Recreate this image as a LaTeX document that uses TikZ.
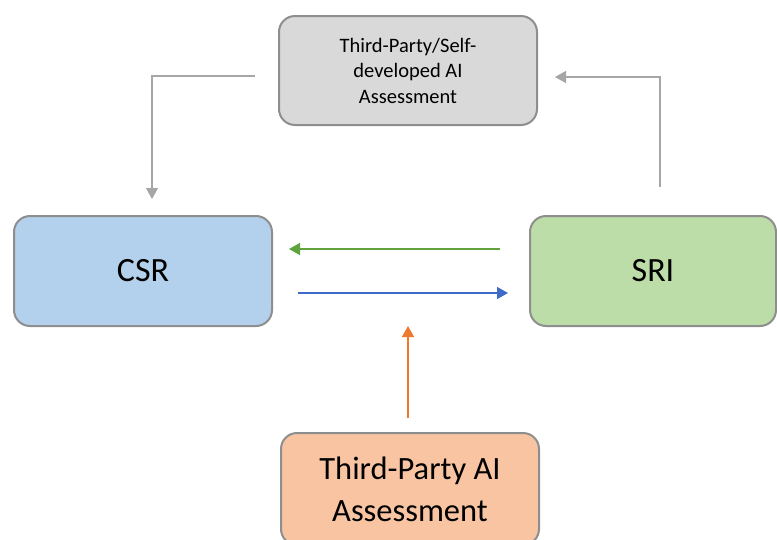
\documentclass[tikz,border=0pt]{standalone}
\usepackage{fontspec}
\setmainfont{Carlito}
\usetikzlibrary{arrows.meta}
\definecolor{boxline}{HTML}{8E8E8E}
\definecolor{topfill}{HTML}{D9D9D9}
\definecolor{csrfill}{HTML}{B3D1EC}
\definecolor{srifill}{HTML}{BCDCA8}
\definecolor{botfill}{HTML}{F8C4A2}
\definecolor{grayarrow}{HTML}{A6A6A6}
\definecolor{greenarrow}{HTML}{5FA33F}
\definecolor{bluearrow}{HTML}{3E6BC8}
\definecolor{orangearrow}{HTML}{EE7A32}
\tikzset{
  roundbox/.style={draw=boxline, line width=2pt, rounded corners=16pt, align=center, inner sep=0pt},
  conn/.style={line width=1.4pt, -{Triangle[length=11pt,width=12pt]}},
}
\begin{document}
\begin{tikzpicture}[x=1pt,y=-1pt]
\useasboundingbox (0,0) rectangle (777,539);
\node[roundbox, fill=topfill, minimum width=258pt, minimum height=109pt,
      font=\fontsize{20.5}{25.5}\selectfont] (top) at (408,70.5)
  {Third-Party/Self-\\developed AI\\Assessment};
\node[roundbox, fill=csrfill, minimum width=258pt, minimum height=110pt,
      font=\fontsize{34}{40}\selectfont] (csr) at (143,271) {CSR};
\node[roundbox, fill=srifill, minimum width=246pt, minimum height=110pt,
      font=\fontsize{34}{40}\selectfont] (sri) at (653,271) {SRI};
\node[roundbox, fill=botfill, minimum width=258pt, minimum height=112pt,
      font=\fontsize{32.5}{42}\selectfont] (bot) at (410,489)
  {Third-Party AI\\Assessment};
% free ends
\coordinate (tlstart) at (255,76);
\coordinate (tlend) at (152,199);
\coordinate (trstart) at (660,187);
\coordinate (trend) at (555,77);
\coordinate (gstart) at (500,249);
\coordinate (gend) at (289,249);
\coordinate (bstart) at (298,293);
\coordinate (bend) at (508,293);
\coordinate (ostart) at (408,418);
\coordinate (oend) at (408,326);
\draw[conn, draw=grayarrow, -{Triangle[length=11pt,width=12pt,fill=grayarrow]}] (tlstart) -| (tlend);
\draw[conn, draw=grayarrow, -{Triangle[length=11pt,width=12pt,fill=grayarrow]}] (trstart) |- (trend);
\draw[conn, draw=greenarrow] (gstart) -- (gend);
\draw[conn, draw=bluearrow] (bstart) -- (bend);
\draw[conn, draw=orangearrow] (ostart) -- (oend);
\end{tikzpicture}
\end{document}
